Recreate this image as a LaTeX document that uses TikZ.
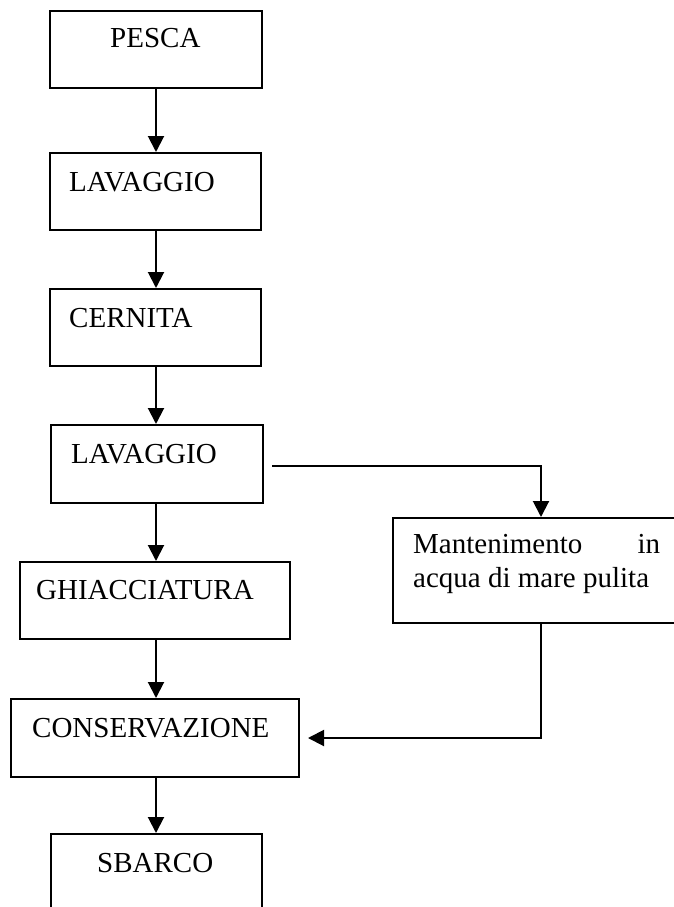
\documentclass[tikz,border=0pt]{standalone}
\usepackage{fontspec}
\setmainfont{Liberation Serif}
\usetikzlibrary{arrows.meta}
\begin{document}
\begin{tikzpicture}[x=1pt,y=-1pt,
  box/.style={draw, line width=2pt, rectangle, inner sep=0pt, anchor=north west},
  lbl/.style={anchor=base west, inner sep=0pt, font=\fontsize{29}{34}\selectfont},
  arr/.style={line width=2pt, -{Triangle[length=16pt,width=16pt]}}]
\useasboundingbox[fill=white] (0,0) rectangle (673,907);
\coordinate (ax) at (156,0);
\coordinate (mx) at (541,0);
% boxes
\node[box, minimum width=212pt, minimum height=77pt] (p)  at (49,10)  {};
\node[box, minimum width=211pt, minimum height=77pt] (l1) at (49,152) {};
\node[box, minimum width=211pt, minimum height=77pt] (c)  at (49,288) {};
\node[box, minimum width=212pt, minimum height=78pt] (l2) at (50,424) {};
\node[box, minimum width=270pt, minimum height=77pt] (g)  at (19,561) {};
\node[box, minimum width=288pt, minimum height=78pt] (co) at (10,698) {};
\node[box, minimum width=211pt, minimum height=90pt] (s)  at (50,833) {};
\node[box, minimum width=330pt, minimum height=105pt] (m) at (392,517) {};
% labels
\node[lbl] (tp)  at (110,48)  {PESCA};
\node[lbl] (tl1) at (69,191)  {LAVAGGIO};
\node[lbl] (tc)  at (69,327)  {CERNITA};
\node[lbl] (tl2) at (71,463)  {LAVAGGIO};
\node[lbl] (tg)  at (36,599)  {GHIACCIATURA};
\node[lbl] (tco) at (32,737)  {CONSERVAZIONE};
\node[lbl] (ts)  at (97,872)  {SBARCO};
\node[lbl] (tm1) at (413,553) {\makebox[247pt]{Mantenimento\hfill in}};
\node[lbl] (tm2) at (413,587) {acqua di mare pulita};
% connectors
\draw[arr] (p.south -| ax)  -- (l1.north -| ax);
\draw[arr] (l1.south -| ax) -- (c.north -| ax);
\draw[arr] (c.south -| ax)  -- (l2.north -| ax);
\draw[arr] (l2.south -| ax) -- (g.north -| ax);
\draw[arr] (g.south -| ax)  -- (co.north -| ax);
\draw[arr] (co.south -| ax) -- (s.north -| ax);
\draw[arr, shorten <=8pt] ([yshift=-2pt]l2.east) -| (m.north -| mx);
\draw[arr, shorten >=8pt] (m.south -| mx) |- (co.east);
\end{tikzpicture}
\end{document}
